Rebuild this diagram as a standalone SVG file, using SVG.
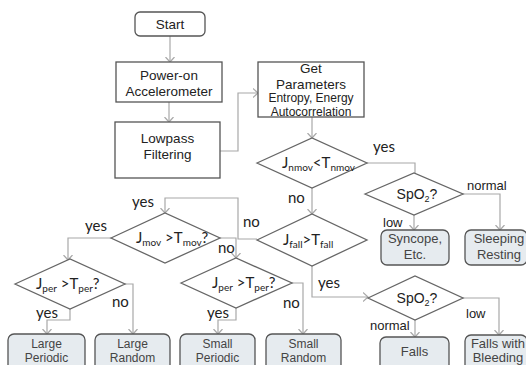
<svg xmlns="http://www.w3.org/2000/svg" width="526" height="365" viewBox="0 0 526 365">
<defs>
<marker id="ah" markerWidth="10" markerHeight="10" refX="5" refY="5" orient="auto" markerUnits="userSpaceOnUse" viewBox="0 0 10 10">
<polyline points="0,0.5 5,5 0,9.5" fill="none" stroke="#a8a8a8" stroke-width="1.2"/>
</marker>
<style>
.box{fill:#fff;stroke:#555;stroke-width:1.3}
.rbox{fill:#e6ebef;stroke:#555;stroke-width:1.3}
.dia{fill:#fff;stroke:#666;stroke-width:1.3}
.c{fill:none;stroke:#a8a8a8;stroke-width:1.2}
.ca{fill:none;stroke:#a8a8a8;stroke-width:1.2;marker-end:url(#ah)}
.t{font-family:"Liberation Sans",Arial,sans-serif;font-size:13.5px;fill:#222;text-anchor:middle}
.ts{font-family:"Liberation Sans",Arial,sans-serif;font-size:12px;fill:#222;text-anchor:middle}
.tr{font-family:"Liberation Sans",Arial,sans-serif;font-size:13px;fill:#444;text-anchor:middle}
.tl{font-family:"Liberation Sans",Arial,sans-serif;font-size:12px;fill:#444;text-anchor:middle}
.lb{font-family:Lato,"Open Sans",sans-serif;font-size:15px;fill:#222}
.la{font-family:"Liberation Sans",Arial,sans-serif;font-size:13px;fill:#222}
.dt{font-family:Lato,"Open Sans",sans-serif;font-size:15px;fill:#222}
.sp{font-family:"Liberation Sans",Arial,sans-serif;font-size:14px;fill:#222;text-anchor:middle}
</style>
</defs>
<g id="connectors">
<path class="ca" d="M170,36 V62"/>
<path class="ca" d="M169,102 V122"/>
<path class="ca" d="M220,151 H238 V93 H258"/>
<path class="ca" d="M312,117 V138"/>
<path class="c" d="M367,163 H415 V173"/>
<path class="ca" d="M463,194 H500 V230"/>
<path class="ca" d="M414,215 V230"/>
<path class="ca" d="M312,188 V214"/>
<path class="ca" d="M312,266 V297 H368"/>
<path class="ca" d="M415,320 V337"/>
<path class="ca" d="M463,298 H499 V335"/>
<path class="ca" d="M257,239 H238 V198 H165 V213"/>
<path class="ca" d="M111,238 H68 V260"/>
<path class="ca" d="M220,238 H236 V258"/>
<path class="ca" d="M125,284 H133 V334"/>
<path class="ca" d="M70,309 V320 H47 V334"/>
<path class="ca" d="M236,308 V320 H218 V334"/>
<path class="ca" d="M292,283 H303 V334"/>
</g>
<g id="start"><rect class="box" x="135" y="12" width="70" height="24" rx="5"/><text class="t" x="170" y="29" font-size="14">Start</text></g>
<g id="poweron"><rect class="box" x="116" y="62" width="106" height="40"/><text class="t" x="169" y="80">Power-on</text><text class="t" x="169" y="96">Accelerometer</text></g>
<g id="lowpass"><rect class="box" x="115" y="122" width="105" height="56"/><text class="t" x="167.5" y="143">Lowpass</text><text class="t" x="167.5" y="159">Filtering</text></g>
<g id="getparams"><rect class="box" x="258" y="62" width="106" height="55"/><text class="t" x="311" y="73">Get</text><text class="t" x="311" y="88.5">Parameters</text><text class="ts" x="311" y="102">Entropy, Energy</text><text class="ts" x="311" y="115.5">Autocorrelation</text></g>
<g id="d_nmov"><polygon class="dia" points="257,163 312,138 367,163 312,188"/><text class="dt" x="282" y="168">J<tspan font-size="10" dy="3">nmov</tspan><tspan dy="-3">&lt;T</tspan><tspan font-size="10" dy="3">nmov</tspan></text></g>
<g id="d_spo2a"><polygon class="dia" points="365,194 414,173 463,194 414,215"/><text class="sp" x="417" y="199">SpO<tspan font-size="9" dy="3">2</tspan><tspan dy="-3">?</tspan></text></g>
<g id="syncope"><rect class="rbox" x="381" y="230" width="68" height="35" rx="6"/><text class="tr" x="415" y="243">Syncope,</text><text class="tr" x="415" y="259">Etc.</text></g>
<g id="sleeping"><rect class="rbox" x="465" y="230" width="62" height="35" rx="6"/><text class="tr" x="499" y="243">Sleeping</text><text class="tr" x="499" y="259">Resting</text></g>
<g id="d_fall"><polygon class="dia" points="257,240 312,214 367,240 312,266"/><text class="dt" x="283" y="245">J<tspan font-size="10" dy="3">fall</tspan><tspan dy="-3">&gt;T</tspan><tspan font-size="10" dy="3">fall</tspan></text></g>
<g id="d_spo2b"><polygon class="dia" points="368,298 415,276 463,298 415,320"/><text class="sp" x="417" y="303">SpO<tspan font-size="9" dy="3">2</tspan><tspan dy="-3">?</tspan></text></g>
<g id="falls"><rect class="rbox" x="380" y="337" width="69" height="40" rx="6"/><text class="tr" x="414.5" y="356">Falls</text></g>
<g id="fallsbleeding"><rect class="rbox" x="465" y="335" width="62" height="40" rx="6"/><text class="tr" x="498" y="348">Falls with</text><text class="tr" x="498" y="362">Bleeding</text></g>
<g id="d_mov"><polygon class="dia" points="111,238 165,213 220,238 165,263"/><text class="dt" x="136" y="243">J<tspan font-size="10" dy="3">mov</tspan><tspan dy="-3"> &gt;T</tspan><tspan font-size="10" dy="3">mov</tspan><tspan dy="-3">?</tspan></text></g>
<g id="d_per1"><polygon class="dia" points="15,284 70,259 125,284 70,309"/><text class="dt" x="36" y="289">J<tspan font-size="10" dy="3">per</tspan><tspan dy="-3"> &gt;T</tspan><tspan font-size="10" dy="3">per</tspan><tspan dy="-3">?</tspan></text></g>
<g id="d_per2"><polygon class="dia" points="181,283 236,258 292,283 236,308"/><text class="dt" x="212" y="288">J<tspan font-size="10" dy="3">per</tspan><tspan dy="-3"> &gt;T</tspan><tspan font-size="10" dy="3">per</tspan><tspan dy="-3">?</tspan></text></g>
<g id="largeperiodic"><rect class="rbox" x="8" y="334" width="77" height="40" rx="6"/><text class="tl" x="46.5" y="348">Large</text><text class="tl" x="46.5" y="362">Periodic</text></g>
<g id="largerandom"><rect class="rbox" x="95" y="334" width="75" height="40" rx="6"/><text class="tl" x="132.5" y="348">Large</text><text class="tl" x="132.5" y="362">Random</text></g>
<g id="smallperiodic"><rect class="rbox" x="180" y="334" width="75" height="40" rx="6"/><text class="tl" x="217.5" y="348">Small</text><text class="tl" x="217.5" y="362">Periodic</text></g>
<g id="smallrandom"><rect class="rbox" x="266" y="334" width="75" height="40" rx="6"/><text class="tl" x="303.5" y="348">Small</text><text class="tl" x="303.5" y="362">Random</text></g>
<g id="labels">
<text class="lb" x="373" y="152">yes</text>
<text class="la" x="467" y="190">normal</text>
<text class="la" x="383" y="227">low</text>
<text class="lb" x="288" y="203">no</text>
<text class="lb" x="318" y="288">yes</text>
<text class="la" x="370" y="330">normal</text>
<text class="la" x="466" y="318">low</text>
<text class="lb" x="243" y="227">no</text>
<text class="lb" x="132" y="207">yes</text>
<text class="lb" x="85" y="231">yes</text>
<text class="lb" x="218" y="253">no</text>
<text class="lb" x="112" y="307">no</text>
<text class="lb" x="36" y="318">yes</text>
<text class="lb" x="207" y="318">yes</text>
<text class="lb" x="283" y="308">no</text>
</g>
</svg>
